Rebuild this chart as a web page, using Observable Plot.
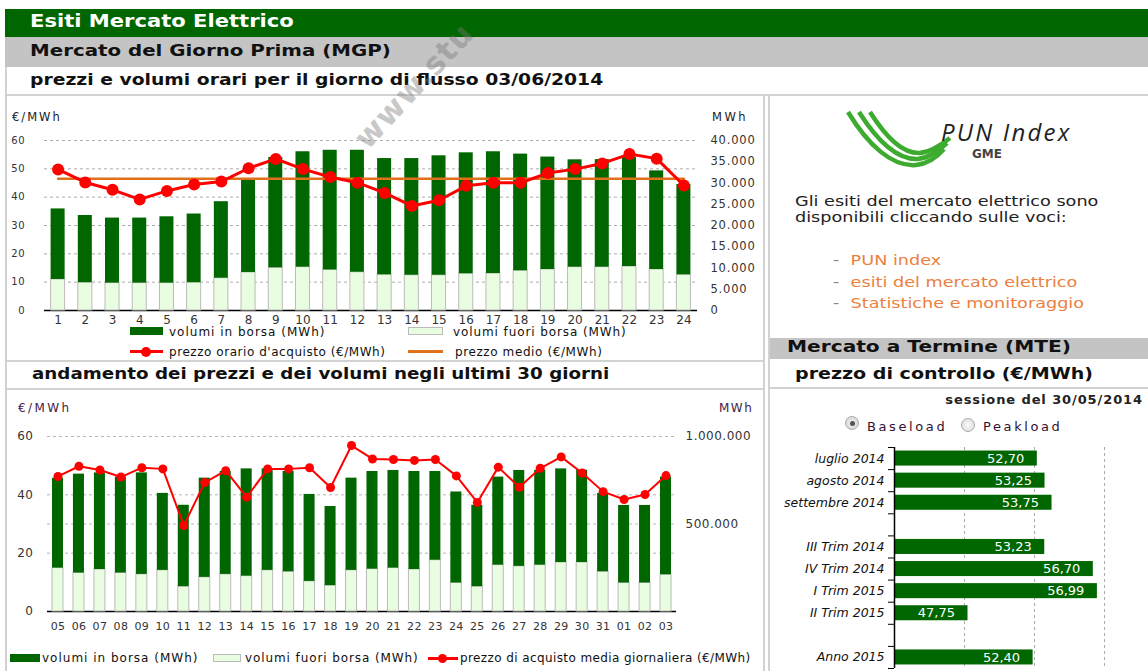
<!DOCTYPE html>
<html lang="it">
<head>
<meta charset="utf-8">
<script src="https://cdn.jsdelivr.net/npm/d3@7"></script>
<script src="https://cdn.jsdelivr.net/npm/@observablehq/plot@0.6"></script>
<style>
html,body{margin:0;padding:0;background:#fff;}
body{width:1148px;height:671px;position:relative;overflow:hidden;font-family:"DejaVu Sans",Verdana,sans-serif;}
.a{position:absolute;box-sizing:border-box;}
.t{position:absolute;white-space:nowrap;line-height:1;}
.sx{transform-origin:0 0;}
.chart{position:absolute;}
.chart svg{overflow:visible;}
.ln{position:absolute;background:#d2d2d2;z-index:5;}
.lg{font-size:12px;color:#111;}
.dash{color:#888;}
#chartOre g[aria-label="y-axis tick label"] text{letter-spacing:0.8px;}
#chartGiorni g[aria-label="y-axis tick label"] text{letter-spacing:0.5px;}
#chartGiorni g[aria-label="x-axis tick label"] text{letter-spacing:0.3px;}
</style>
</head>
<body>
<!-- header bands -->
<div class="a" style="left:5px;top:9px;width:1143px;height:28px;background:#006600"></div>
<div class="t sx" style="left:30px;top:13px;font-size:17px;font-weight:bold;color:#fff;transform:scaleX(1.24)">Esiti Mercato Elettrico</div>
<div class="a" style="left:5px;top:37px;width:1143px;height:30px;background:#c4c4c4"></div>
<div class="t sx" style="left:30px;top:43px;font-size:16.5px;font-weight:bold;color:#111;transform:scaleX(1.2)">Mercato del Giorno Prima (MGP)</div>
<div class="t sx" style="left:30px;top:73px;font-size:15px;font-weight:bold;color:#111;transform:scaleX(1.25)">prezzi e volumi orari per il giorno di flusso 03/06/2014</div>

<!-- border lines -->
<div class="ln" style="left:5px;top:67px;width:2px;height:604px"></div>
<div class="ln" style="left:5px;top:94px;width:1143px;height:2px"></div>
<div class="ln" style="left:763px;top:95px;width:2px;height:576px"></div>
<div class="ln" style="left:768px;top:95px;width:2px;height:576px"></div>
<div class="ln" style="left:5px;top:360px;width:760px;height:2px"></div>
<div class="ln" style="left:5px;top:388px;width:760px;height:2px"></div>
<div class="ln" style="left:769px;top:387px;width:379px;height:2px"></div>

<!-- top chart -->
<div class="t" style="left:12px;top:112px;font-size:11.5px;color:#222;letter-spacing:2px">€/MWh</div>
<div class="t" style="left:712px;top:112px;font-size:11.5px;color:#222;letter-spacing:2.5px">MWh</div>
<div id="chartOre" class="chart" style="left:0px;top:97px;width:765px;height:265px"></div>

<div class="a" style="left:130px;top:327px;width:33px;height:8px;background:#006600"></div>
<div class="t lg" style="left:169px;top:326px;letter-spacing:1px">volumi in borsa (MWh)</div>
<div class="a" style="left:408px;top:327px;width:35px;height:8px;background:#e9fde0;border:1px solid #bbb"></div>
<div class="t lg" style="left:453px;top:326px;letter-spacing:0.9px">volumi fuori borsa (MWh)</div>
<div class="a" style="left:130px;top:350px;width:33px;height:3px;background:#ff0000"></div>
<div class="a" style="left:141px;top:347px;width:10px;height:10px;border-radius:50%;background:#ff0000"></div>
<div class="t lg" style="left:169px;top:346px;letter-spacing:0.55px">prezzo orario d'acquisto (€/MWh)</div>
<div class="a" style="left:408px;top:350px;width:35px;height:3px;background:#e0701a"></div>
<div class="t lg" style="left:455px;top:346px;letter-spacing:0.6px">prezzo medio (€/MWh)</div>

<!-- bottom chart -->
<div class="t sx" style="left:32px;top:367px;font-size:15.5px;font-weight:bold;color:#111;transform:scaleX(1.18)">andamento dei prezzi e dei volumi negli ultimi 30 giorni</div>
<div class="t" style="left:18px;top:402px;font-size:12px;color:#442244;letter-spacing:2.4px">€/MWh</div>
<div class="t" style="left:719px;top:402px;font-size:12px;color:#442244;letter-spacing:1.5px">MWh</div>
<div id="chartGiorni" class="chart" style="left:0px;top:390px;width:765px;height:250px"></div>

<div class="a" style="left:10px;top:654px;width:30px;height:8px;background:#006600"></div>
<div class="t lg" style="left:42px;top:652px;letter-spacing:1px">volumi in borsa (MWh)</div>
<div class="a" style="left:213px;top:654px;width:28px;height:8px;background:#e9fde0;border:1px solid #bbb"></div>
<div class="t lg" style="left:245px;top:652px;letter-spacing:0.9px">volumi fuori borsa (MWh)</div>
<div class="a" style="left:428px;top:657px;width:30px;height:3px;background:#ff0000"></div>
<div class="a" style="left:438px;top:654px;width:9px;height:9px;border-radius:50%;background:#ff0000"></div>
<div class="t lg" style="left:460px;top:652px;letter-spacing:0.4px">prezzo di acquisto media giornaliera (€/MWh)</div>

<!-- right panel -->
<svg class="a" style="left:840px;top:100px" width="260" height="75">
  <g fill="none" stroke="#3dab2f" stroke-width="4.5" stroke-linecap="butt">
    <path d="M 8 12 C 28 45, 52 67, 76 65 C 88 64, 97 57, 104 49"/>
    <path d="M 19 12 C 38 42, 58 60, 78 59 C 89 58, 98 51, 107 43"/>
    <path d="M 30 12 C 47 39, 64 54, 80 53 C 91 52, 101 45, 110 38"/>
  </g>
  <text x="101" y="41" font-family="Open Sans, DejaVu Sans, sans-serif" font-style="italic" font-size="24" letter-spacing="2.2" fill="#222">PUN Index</text>
  <text x="132" y="58" font-family="DejaVu Sans, sans-serif" font-weight="bold" font-size="12" fill="#444">GME</text>
</svg>
<div class="t sx" style="left:795px;top:193px;font-size:14px;line-height:16px;color:#222;transform:scaleX(1.26)">Gli esiti del mercato elettrico sono<br>disponibili cliccando sulle voci:</div>
<div class="t sx" style="left:833px;top:253px;font-size:14px;color:#ec8040;transform:scaleX(1.26)"><span class="dash">-</span>&nbsp; PUN index</div>
<div class="t sx" style="left:833px;top:275px;font-size:14px;color:#ec8040;transform:scaleX(1.26)"><span class="dash">-</span>&nbsp; esiti del mercato elettrico</div>
<div class="t sx" style="left:833px;top:296px;font-size:14px;color:#ec8040;transform:scaleX(1.26)"><span class="dash">-</span>&nbsp; Statistiche e monitoraggio</div>

<div class="a" style="left:769px;top:338px;width:379px;height:21px;background:#c4c4c4"></div>
<div class="t sx" style="left:787px;top:339px;font-size:16px;font-weight:bold;color:#111;transform:scaleX(1.26)">Mercato a Termine (MTE)</div>
<div class="t sx" style="left:795px;top:366px;font-size:16px;font-weight:bold;color:#111;transform:scaleX(1.19)">prezzo di controllo (€/MWh)</div>
<div class="t" style="right:5px;top:393px;font-size:13px;font-weight:bold;color:#222;letter-spacing:0.9px">sessione del 30/05/2014</div>

<div class="a" style="left:845px;top:416px;width:14px;height:14px;border-radius:50%;background:radial-gradient(circle,#f4f4f4,#cfcfcf);border:1px solid #aaa"></div>
<div class="a" style="left:849.5px;top:420.5px;width:5px;height:5px;border-radius:50%;background:#555"></div>
<div class="t" style="left:867px;top:420px;font-size:13px;color:#331133;letter-spacing:2.6px">Baseload</div>
<div class="a" style="left:961px;top:418px;width:14px;height:14px;border-radius:50%;background:radial-gradient(circle,#fafafa,#d8d8d8);border:1px solid #aaa"></div>
<div class="t" style="left:983px;top:420px;font-size:13px;color:#331133;letter-spacing:2.6px">Peakload</div>
<div id="chartMTE" class="chart" style="left:765px;top:440px;width:383px;height:231px"></div>

<!-- watermark -->
<div class="t" style="left:360px;top:128px;font-size:31px;font-weight:bold;color:rgba(120,120,120,0.42);transform-origin:0 50%;transform:rotate(-47deg);letter-spacing:1px;z-index:10">www.stu</div>

<script>
// ---------- DATA ----------
// MGP orario (03/06/2014)
const ore = [1,2,3,4,5,6,7,8,9,10,11,12,13,14,15,16,17,18,19,20,21,22,23,24];
const volumiInBorsaOrari = [16600,15800,15300,15300,15600,16150,18000,22050,25950,27150,28150,28700,27350,27450,28100,28450,28650,27450,26450,25250,25300,25650,23200,21250];
const volumiFuoriBorsaOrari = [7300,6550,6450,6450,6450,6550,7600,8950,10050,10200,9550,9000,8400,8300,8300,8650,8700,9350,9650,10200,10200,10350,9650,8400];
const prezzoOrario = [49.8,45.2,42.6,39.2,42.2,44.5,45.5,50.2,53.5,49.9,47.1,45.1,41.5,36.9,38.9,44.0,45.1,45.1,48.5,49.9,51.9,55.2,53.6,44.1];
const prezzoMedio = 46.5;
const tickPrezzoOrario = [0,10,20,30,40,50,60];
const tickVolumiOrari = [0,5000,10000,15000,20000,25000,30000,35000,40000];

// ultimi 30 giorni
const giorni = ["05","06","07","08","09","10","11","12","13","14","15","16","17","18","19","20","21","22","23","24","25","26","27","28","29","30","31","01","02","03"];
const volumiInBorsaGiorni = [513000,565000,552000,548000,580000,440000,465000,567000,588000,613000,580000,573000,497000,452000,527000,558000,558000,560000,507000,520000,465000,503000,548000,542000,535000,527000,448000,443000,443000,558000];
const volumiFuoriBorsaGiorni = [248000,220000,240000,220000,212000,235000,142000,195000,212000,202000,235000,227000,172000,148000,235000,242000,248000,240000,293000,163000,142000,265000,258000,265000,280000,280000,227000,163000,163000,210000];
const prezzoGiorni = [46.3,49.8,48.5,46.1,49.3,48.9,29.5,44.2,48.3,39.2,48.9,48.9,49.3,42.5,56.9,52.3,52.1,51.8,52.1,46.5,37.4,49.5,42.6,49.1,53.0,47.5,41.1,38.4,40.1,46.6];
const tickPrezzoGiorni = [0,20,40,60];
const grigliaPrezzoGiorni = [20,30,40,60];
const tickVolumiGiorni = [500000,1000000];

// MTE prezzo di controllo, sessione 30/05/2014 (Baseload)
const prodottiMTE = ["luglio 2014","agosto 2014","settembre 2014"," ","III Trim 2014","IV Trim 2014","I Trim 2015","II Trim 2015","  ","Anno 2015"];
const prezziMTE = [52.70,53.25,53.75,null,53.23,56.70,56.99,47.75,null,52.40];
const grigliaMTE = [47.5,52.5,57.5];
const assexMTE = [42.5,60.64];

// ---------- FORMAT ----------
const it = d3.formatLocale({decimal:",", thousands:".", grouping:[3], currency:["€",""]});
const fmtInt = it.format(",");
const fmt2 = it.format(".2f");
const font = "DejaVu Sans, Verdana, sans-serif";

// ---------- CHART 1: orari ----------
const k1 = 60 / 40000;
const fuori1 = volumiFuoriBorsaOrari.map(v => v * k1);
const tot1 = volumiFuoriBorsaOrari.map((v, i) => (v + volumiInBorsaOrari[i]) * k1);
const chartOre = Plot.plot({
  width: 765, height: 265,
  marginLeft: 44, marginRight: 68, marginTop: 43, marginBottom: 52,
  style: {background: "transparent", fontFamily: font, fontSize: "12px", color: "#333", overflow: "visible"},
  x: {type: "band", domain: ore, paddingInner: 0.485, paddingOuter: 0.2425, round: false, axis: null},
  y: {domain: [0, 60], axis: null},
  marks: [
    Plot.gridY(tickPrezzoOrario.filter(d => d > 0), {stroke: "#999", strokeOpacity: 0.8, strokeDasharray: "3,3"}),
    Plot.ruleY([0], {stroke: "#000", strokeWidth: 1.5}),
    Plot.barY(ore, {x: ore, y1: 0, y2: fuori1, fill: "#e9fde0", stroke: "#bbbbbb", strokeWidth: 1}),
    Plot.barY(ore, {x: ore, y1: fuori1, y2: tot1, fill: "#006600"}),
    Plot.line(ore, {x: ore, y: ore.map(() => prezzoMedio), stroke: "#e0701a", strokeWidth: 2.5}),
    Plot.line(ore, {x: ore, y: prezzoOrario, stroke: "#ff0000", strokeWidth: 3}),
    Plot.dot(ore, {x: ore, y: prezzoOrario, r: 6, fill: "#ff0000"}),
    Plot.axisY(tickPrezzoOrario, {anchor: "left", tickSize: 0, tickPadding: 19, fontSize: 10, label: null}),
    Plot.axisY(tickVolumiOrari.map(v => v * k1), {anchor: "right", tickSize: 0, tickPadding: 13, fontSize: 11.5, tickFormat: d => fmtInt(Math.round(d / k1)), label: null}),
    Plot.axisX({anchor: "bottom", tickSize: 0, tickPadding: 5, label: null})
  ]
});
document.getElementById("chartOre").append(chartOre);

// ---------- CHART 2: 30 giorni ----------
const k2 = 60 / 1000000;
const fuori2 = volumiFuoriBorsaGiorni.map(v => v * k2);
const tot2 = volumiFuoriBorsaGiorni.map((v, i) => (v + volumiInBorsaGiorni[i]) * k2);
const chartGiorni = Plot.plot({
  width: 765, height: 250,
  marginLeft: 47, marginRight: 89, marginTop: 46, marginBottom: 29,
  style: {background: "transparent", fontFamily: font, fontSize: "12px", color: "#333", overflow: "visible"},
  x: {type: "band", domain: giorni, paddingInner: 0.475, paddingOuter: 0.2375, round: false, axis: null},
  y: {domain: [0, 60], axis: null},
  marks: [
    Plot.gridY(grigliaPrezzoGiorni, {stroke: "#999", strokeOpacity: 0.7, strokeDasharray: "3,3"}),
    Plot.ruleY([0], {stroke: "#000", strokeWidth: 1.5}),
    Plot.barY(giorni, {x: giorni, y1: 0, y2: fuori2, fill: "#e9fde0", stroke: "#bbbbbb", strokeWidth: 1}),
    Plot.barY(giorni, {x: giorni, y1: fuori2, y2: tot2, fill: "#006600"}),
    Plot.line(giorni, {x: giorni, y: prezzoGiorni, stroke: "#ff0000", strokeWidth: 2}),
    Plot.dot(giorni, {x: giorni, y: prezzoGiorni, r: 4.5, fill: "#ff0000"}),
    Plot.axisY(tickPrezzoGiorni, {anchor: "left", tickSize: 0, tickPadding: 14, fontSize: 12, label: null}),
    Plot.axisY(tickVolumiGiorni.map(v => v * k2), {anchor: "right", tickSize: 0, tickPadding: 9, fontSize: 12, tickFormat: d => fmtInt(Math.round(d / k2)), label: null}),
    Plot.axisX({anchor: "bottom", tickSize: 0, tickPadding: 11, fontSize: 11, label: null})
  ]
});
document.getElementById("chartGiorni").append(chartGiorni);

// ---------- CHART 3: MTE ----------
const idxMTE = prodottiMTE.map((_, i) => i).filter(i => prezziMTE[i] != null);
const stepMTE = (231 - 7 - 3) / prodottiMTE.length;
const chartMTE = Plot.plot({
  width: 383, height: 231,
  marginLeft: 129, marginRight: 0, marginTop: 7, marginBottom: 3,
  style: {background: "transparent", fontFamily: font, fontSize: "12px", color: "#111", overflow: "visible"},
  x: {domain: assexMTE, axis: null},
  y: {type: "band", domain: prodottiMTE, paddingInner: 0.32, paddingOuter: 0.16, round: false, axis: null},
  marks: [
    Plot.ruleX(grigliaMTE, {stroke: "#aaa", strokeDasharray: "3,3"}),
    Plot.barX(idxMTE, {y: i => prodottiMTE[i], x1: assexMTE[0], x2: i => prezziMTE[i], fill: "#006600"}),
    Plot.text(idxMTE, {y: i => prodottiMTE[i], x: i => prezziMTE[i], text: i => fmt2(prezziMTE[i]), dx: -13, textAnchor: "end", fill: "#fff", fontSize: 13}),
    Plot.ruleX([assexMTE[0]], {stroke: "#000", strokeWidth: 1.5}),
    Plot.axisY({anchor: "left", tickSize: 0, tickPadding: 10, fontStyle: "italic", fontSize: 12.5, tickFormat: d => d.trim(), label: null}),
    Plot.axisY(prodottiMTE, {anchor: "left", tickSize: 6, fill: "none", dy: -stepMTE / 2, stroke: "#000", label: null}),
    Plot.axisY([prodottiMTE[prodottiMTE.length - 1]], {anchor: "left", tickSize: 6, fill: "none", dy: stepMTE / 2, stroke: "#000", label: null})
  ]
});
document.getElementById("chartMTE").append(chartMTE);
</script>
</body>
</html>
